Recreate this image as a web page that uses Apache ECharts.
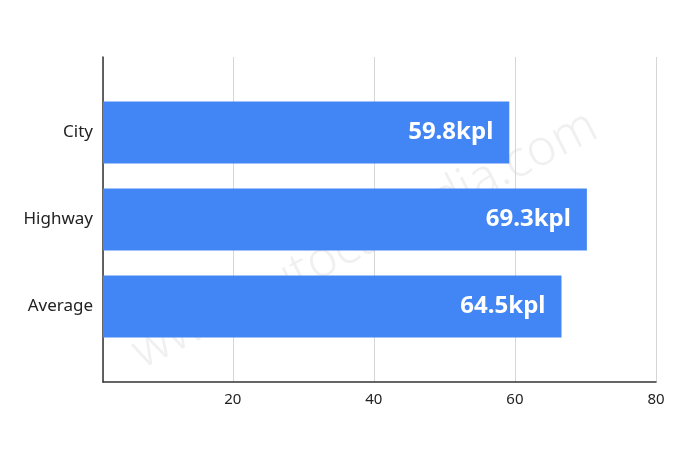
<!DOCTYPE html>
<html lang="en">
<head>
    <meta charset="UTF-8">
    <title>Fuel efficiency</title>
    <style>
        html, body { margin: 0; padding: 0; background: #fff; }
        #main { width: 700px; height: 464px; }
    </style>
</head>
<body>
    <div id="main"></div>
    <script src="https://cdn.jsdelivr.net/npm/echarts@6/dist/echarts.min.js"></script>
    <script>
        // data
        var categories = ['City', 'Highway', 'Average'];
        var barLength = [59.2, 70.2, 66.6];          // where the bars end on the axis
        var labelText = ['59.8kpl', '69.3kpl', '64.5kpl'];  // text printed in the bars
        var axisMin = 1.6;
        var axisMax = 80;

        var chart = echarts.init(document.getElementById('main'));

        chart.setOption({
            animation: false,
            textStyle: { fontFamily: 'Noto Sans' },
            graphic: [{
                type: 'text',
                x: 365,
                y: 240,
                rotation: 0.47,
                z: 0,
                silent: true,
                style: {
                    text: 'www.autocarindia.com',
                    fill: '#f0f0f0',
                    font: '300 50px "Noto Sans"',
                    align: 'center',
                    verticalAlign: 'middle'
                }
            }],
            grid: [
                // frame: axis lines + gridlines
                { left: 103, right: 44, top: 57, bottom: 82 },
                // bars
                { left: 103, right: 44, top: 89, height: 261 }
            ],
            xAxis: [{
                gridIndex: 0,
                type: 'value',
                min: axisMin,
                max: axisMax,
                splitNumber: 4,
                axisLine: { show: true, lineStyle: { color: '#333', width: 1.5 } },
                axisTick: { show: false },
                axisLabel: { showMinLabel: false, fontSize: 15, color: '#222', margin: 10 },
                splitLine: { show: true, lineStyle: { color: '#d6d6d6', width: 1 } }
            }, {
                gridIndex: 1,
                type: 'value',
                min: axisMin,
                max: axisMax,
                show: false
            }],
            yAxis: [{
                gridIndex: 0,
                type: 'value',
                axisLine: { show: true, lineStyle: { color: '#333', width: 1.5 } },
                axisTick: { show: false },
                axisLabel: { show: false },
                splitLine: { show: false }
            }, {
                gridIndex: 1,
                type: 'category',
                inverse: true,
                data: categories,
                axisLine: { show: false },
                axisTick: { show: false },
                axisLabel: { fontSize: 17, color: '#222', margin: 10 }
            }],
            series: [{
                type: 'bar',
                xAxisIndex: 1,
                yAxisIndex: 1,
                data: barLength,
                barWidth: 62,
                itemStyle: { color: '#4285f4' },
                label: {
                    show: true,
                    position: 'insideRight',
                    distance: 16,
                    color: '#fff',
                    fontSize: 24,
                    fontWeight: 'bold',
                    formatter: function (p) { return labelText[p.dataIndex]; }
                }
            }]
        });
    </script>
</body>
</html>
